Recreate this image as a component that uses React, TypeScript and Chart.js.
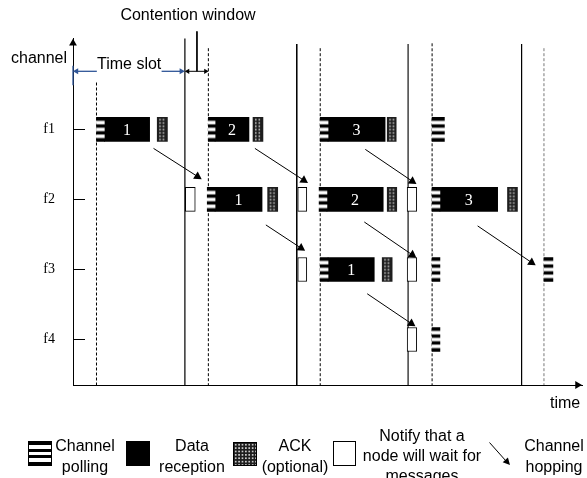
import React, { useEffect, useRef } from 'react';
import { Chart, registerables } from 'chart.js';
Chart.register(...registerables);

// ---------- data (time in slot units, rows are channels) ----------
const rowLabels = ['f1', 'f2', 'f3', 'f4'];
const rowValues = [4, 3, 2, 1];

// [channel, start, end]
const pollingSlots: [string, number, number][] = [
  ['f1', 0.21, 0.28], ['f1', 1.21, 1.27], ['f1', 2.21, 2.28], ['f1', 3.21, 3.32],
  ['f2', 1.2, 1.27], ['f2', 2.2, 2.27], ['f2', 3.21, 3.28],
  ['f3', 2.21, 2.28], ['f3', 3.21, 3.28], ['f3', 4.21, 4.29],
  ['f4', 3.21, 3.28],
];
// [channel, start, end, packet number]
const dataSlots: [string, number, number, string][] = [
  ['f1', 0.28, 0.685, '1'], ['f1', 1.27, 1.573, '2'], ['f1', 2.28, 2.79, '3'],
  ['f2', 1.27, 1.69, '1'], ['f2', 2.27, 2.773, '2'], ['f2', 3.28, 3.796, '3'],
  ['f3', 2.28, 2.693, '1'],
];
const ackSlots: [string, number, number][] = [
  ['f1', 0.753, 0.844], ['f1', 1.609, 1.698], ['f1', 2.809, 2.889],
  ['f2', 1.74, 1.83], ['f2', 2.809, 2.894], ['f2', 3.884, 3.973],
  ['f3', 2.764, 2.853],
];
const notifySlots: [string, number, number][] = [
  ['f2', 1.004, 1.093], ['f2', 2.009, 2.09], ['f2', 2.987, 3.073],
  ['f3', 2.009, 2.09], ['f3', 2.987, 3.073],
  ['f4', 2.987, 3.073],
];
// channel hopping arrows: [x0, y0, x1, y1]
const hoppingArrows: [number, number, number, number][] = [
  [0.72, 3.729, 1.113, 3.328],
  [1.626, 3.729, 2.063, 3.274],
  [2.613, 3.715, 3.033, 3.26],
  [1.724, 2.636, 2.038, 2.306],
  [2.604, 2.678, 3.033, 2.209],
  [3.617, 2.622, 4.099, 2.1],
  [2.63, 1.653, 3.024, 1.228],
];
// slot boundaries (solid) and contention-window ends (dashed)
const slotBoundaries = [1.0, 2.0, 2.996, 4.01];
const slotTops = [5.3, 5.22, 5.22, 5.22];
const windowEnds = [0.21, 1.21, 2.21, 3.21, 4.21];
const windowTops = [4.67, 5.16, 5.16, 5.23, 5.16];

const X_MIN = 0, X_MAX = 4.55, Y_MIN = 0.35, Y_MAX = 5.3;
const annotY = 4.83; // level of "Time slot" / contention window arrows

const row = (f: string) => rowValues[rowLabels.indexOf(f)];
const toBars = (items: any[]) => items.map((it) => ({ x: [it[1], it[2]], y: row(it[0]) }));

// ---------- patterns ----------
function pollingFill(c: any) {
  if (c.type !== 'data') return '#000';
  const tile = document.createElement('canvas');
  tile.width = 4; tile.height = 24;
  const t = tile.getContext('2d')!;
  t.fillStyle = '#000'; t.fillRect(0, 0, 4, 24);
  t.fillStyle = '#fff';
  [[3.4, 6.9], [10.3, 13.7], [17.1, 20.6]].forEach(([a, b]) => t.fillRect(0, a, 4, b - a));
  const p = c.chart.ctx.createPattern(tile, 'repeat');
  const top = c.chart.scales.y.getPixelForValue(c.raw.y) - 12;
  p.setTransform(new DOMMatrix().translate(0, top));
  return p;
}
function ackFill(c: any) {
  if (c.type !== 'data') return '#222';
  const tile = document.createElement('canvas');
  tile.width = 10; tile.height = 24;
  const t = tile.getContext('2d')!;
  t.fillStyle = '#1e1e1e'; t.fillRect(0, 0, 10, 24);
  t.fillStyle = '#c8c8c8';
  for (let k = 0; k < 7; k++) {
    for (const cx of [2.8, 6.3]) t.fillRect(cx - 0.8, 2.3 + 3.3 * k - 0.8, 1.6, 1.6);
  }
  const p = c.chart.ctx.createPattern(tile, 'repeat');
  const top = c.chart.scales.y.getPixelForValue(c.raw.y) - 12;
  const left = c.chart.scales.x.getPixelForValue(c.raw.x[0]);
  p.setTransform(new DOMMatrix().translate(left, top));
  return p;
}

const headRotation = (c: any) => {
  if (c.type !== 'data') return 0;
  const d = c.dataset.data;
  const xs = c.chart.scales.x, ys = c.chart.scales.y;
  const i = c.dataIndex, j = i === 0 ? 1 : 0;
  const dx = xs.getPixelForValue(d[i].x) - xs.getPixelForValue(d[j].x);
  const dy = ys.getPixelForValue(d[i].y) - ys.getPixelForValue(d[j].y);
  return (Math.atan2(dx, -dy) * 180) / Math.PI;
};

function arrowDataset(x0: number, y0: number, x1: number, y1: number, color: string, r: number, both = false, width = 1) {
  return {
    type: 'line', data: [{ x: x0, y: y0 }, { x: x1, y: y1 }],
    borderColor: color, borderWidth: width, tension: 0, fill: false, clip: false,
    pointStyle: 'triangle', pointRadius: [both ? r : 0, r], pointRotation: headRotation,
    pointBackgroundColor: color, pointBorderWidth: 0,
  };
}
function vline(x: number, top: number, color: string, dash: number[], width = 1) {
  return {
    type: 'line', data: [{ x, y: top }, { x, y: Y_MIN }],
    borderColor: color, borderWidth: width, borderDash: dash, pointRadius: 0, tension: 0, fill: false, clip: false,
  };
}

const blockLabelPlugin = {
  id: 'blockLabels',
  afterDatasetsDraw(chart: any) {
    const idx = chart.data.datasets.findIndex((d: any) => d.label === 'data');
    const meta = chart.getDatasetMeta(idx);
    const ctx = chart.ctx;
    ctx.save();
    ctx.fillStyle = '#fff';
    ctx.font = "16px 'Liberation Serif', 'Times New Roman', serif";
    ctx.textAlign = 'center';
    ctx.textBaseline = 'middle';
    meta.data.forEach((el: any, i: number) => {
      const p = el.getCenterPoint();
      ctx.fillText(dataSlots[i][3], p.x, p.y + 1);
    });
    ctx.restore();
  },
};

export default function App() {
  const ref = useRef<HTMLCanvasElement>(null);
  useEffect(() => {
    const barCommon = { type: 'bar', indexAxis: 'y', grouped: false, barThickness: 24, maxBarThickness: 24 };
    const datasets: any[] = [
      { ...barCommon, label: 'polling', data: toBars(pollingSlots), backgroundColor: pollingFill, borderWidth: 0 },
      { ...barCommon, label: 'data', data: toBars(dataSlots), backgroundColor: '#000', borderWidth: 0 },
      { ...barCommon, label: 'ack', data: toBars(ackSlots), backgroundColor: ackFill, borderWidth: 0 },
      { ...barCommon, label: 'notify', data: toBars(notifySlots), backgroundColor: '#fff', borderColor: '#000', borderWidth: 1, borderSkipped: false },
      ...hoppingArrows.map(([a, b, c, d]) => arrowDataset(a, b, c, d, '#000', 5)),
      // axis arrowheads
      {
        type: 'line', showLine: false, clip: false, data: [{ x: X_MIN, y: 5.23 }, { x: 4.51, y: Y_MIN }],
        pointStyle: 'triangle', pointRadius: 4.5, pointRotation: [0, 90], pointBackgroundColor: '#000', pointBorderWidth: 0,
      },
      // contention window annotation
      { type: 'line', data: [{ x: 1.108, y: 5.4 }, { x: 1.108, y: annotY }], borderColor: '#000', borderWidth: 1, pointRadius: 0, clip: false },
      arrowDataset(1.026, annotY, 1.186, annotY, '#000', 3, true),
      // time slot annotation
      arrowDataset(0.213, annotY, 0.031, annotY, '#2F5597', 3.5, false, 1.3),
      arrowDataset(0.792, annotY, 0.969, annotY, '#2F5597', 3.5, false, 1.3),
      { type: 'line', data: [{ x: 0, y: 4.91 }, { x: 0, y: 4.63 }], borderColor: '#2F5597', borderWidth: 1.3, pointRadius: 0, clip: false },
      ...slotBoundaries.map((x, i) => vline(x, slotTops[i], ['#333', '#000', '#555', '#000'][i], [], i === 0 ? 1.5 : 1)),
      ...windowEnds.map((x, i) => vline(x, windowTops[i], i === 4 ? '#777' : '#000', [3, 2])),
    ];

    const chart = new Chart(ref.current!, {
      type: 'bar',
      data: { datasets },
      options: {
        animation: false,
        responsive: false,
        events: [],
        layout: { padding: { top: 32, right: 2, left: 0, bottom: 0 } },
        plugins: { legend: { display: false }, tooltip: { enabled: false } },
        scales: {
          x: {
            type: 'linear', min: X_MIN, max: X_MAX, offset: false,
            ticks: { display: false },
            grid: { display: false, offset: false },
            border: { display: true, color: '#000', width: 1 },
            afterFit: (s: any) => { s.height = 93; },
          },
          y: {
            type: 'linear', position: 'left', min: Y_MIN, max: Y_MAX, offset: false,
            afterBuildTicks: (s: any) => { s.ticks = rowValues.map((v) => ({ value: v })); },
            ticks: {
              padding: 30, color: '#000',
              font: { family: "'Liberation Serif', 'Times New Roman', serif", size: 14 },
              callback: (v: any) => rowLabels[rowValues.indexOf(v)] ?? '',
            },
            grid: { display: true, drawOnChartArea: false, drawTicks: true, tickLength: -12, color: '#000', offset: false },
            border: { display: true, color: '#000', width: 1 },
            afterFit: (s: any) => { s.width = 73; },
          },
        },
      } as any,
      plugins: [blockLabelPlugin],
    } as any);
    return () => chart.destroy();
  }, []);

  const abs = (extra: any) => ({ position: 'absolute' as const, whiteSpace: 'nowrap' as const, ...extra });
  const center = (cx: number, top: number, lh: number) => abs({ left: cx - 100, width: 200, top, textAlign: 'center', lineHeight: `${lh}px` });

  return (
    <div style={{ position: 'absolute', left: 0, top: 0, width: 587, height: 478, overflow: 'hidden', background: '#fff', color: '#000', fontFamily: "'Liberation Sans', Arial, sans-serif", fontSize: 16 }}>
      <canvas ref={ref} width={587} height={478} style={{ position: 'absolute', left: 0, top: 0 }} />
      <div style={center(188, 6, 18)}>Contention window</div>
      <div style={abs({ left: 11, top: 49, lineHeight: '18px' })}>channel</div>
      <div style={abs({ left: 97, top: 55, lineHeight: '18px' })}>Time slot</div>
      <div style={abs({ left: 550, top: 394, lineHeight: '18px' })}>time</div>

      {/* legend */}
      <div style={abs({ left: 28, top: 441, width: 24, height: 25, boxSizing: 'border-box', border: '1px solid #000',
        background: 'linear-gradient(to bottom, #000 0 14.3%, #fff 14.3% 28.6%, #000 28.6% 42.9%, #fff 42.9% 57.1%, #000 57.1% 71.4%, #fff 71.4% 85.7%, #000 85.7% 100%)' })} />
      <div style={center(85, 435, 21)}>Channel<br />polling</div>
      <div style={abs({ left: 126, top: 441, width: 24, height: 25, background: '#000' })} />
      <div style={center(192, 435, 21)}>Data<br />reception</div>
      <div style={abs({ left: 233, top: 442, width: 24, height: 24, boxSizing: 'border-box', border: '1px solid #000', backgroundColor: '#1e1e1e',
        backgroundImage: 'radial-gradient(circle, #c8c8c8 0.8px, transparent 1.1px)', backgroundSize: '3.4px 3.4px' })} />
      <div style={center(295, 435, 21)}>ACK<br />(optional)</div>
      <div style={abs({ left: 333, top: 441, width: 23, height: 25, boxSizing: 'border-box', border: '1px solid #000', background: '#fff' })} />
      <div style={center(422, 426, 20)}>Notify that a<br />node will wait for<br />messages</div>
      <svg style={abs({ left: 489, top: 442 })} width={24} height={26}>
        <line x1={0.5} y1={0.5} x2={17} y2={19} stroke="#000" strokeWidth={1} />
        <polygon points="21,23 13.7,20.2 18.9,15.4" fill="#000" />
      </svg>
      <div style={center(554, 435, 21)}>Channel<br />hopping</div>
    </div>
  );
}
